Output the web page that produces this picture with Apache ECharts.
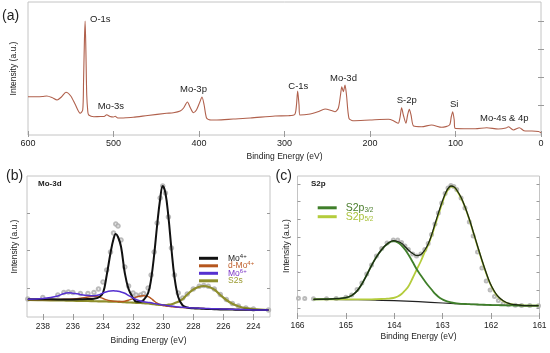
<!DOCTYPE html>
<html>
<head>
<meta charset="utf-8">
<script src="https://cdn.jsdelivr.net/npm/echarts@6.0.0/dist/echarts.min.js"></script>
<style>html,body{margin:0;padding:0;background:#fff}#c{width:550px;height:353px}</style>
</head>
<body>
<div id="c"></div>
<script>
// ---- Panel (a): survey spectrum ----
const surveyBE = [600,590,583,578,572,566,561,555.6,550,545,539,536,535,534,533.2,532.3,531.3,530,529,523,515,511,508,504,500,498,495,485,477,460,438,430,422,418,413.6,410,406.6,403,399,396.5,394,391,386,379,360,340,311,295.5,288,286,284.6,283,282,272,261,252.6,245,241,237,234.5,233,231.2,229.2,227.5,224.6,220,200,178.5,172.6,167,165,163,161,158,156,154,152,149,139.6,128,116,107,105,103.3,101.5,100.6,90,77,63.5,50,41,38,35,32.3,25.3,20,15,10.6,3,0];
const surveyIntensity = [37.3,37.3,37.5,38,36.5,34,37,41.7,38,30,20.7,24,54,94,113,84,39,22,19,17.3,17.5,17.5,19.3,17.5,17,17.7,16,16.3,16.7,18.5,20.7,21.3,23,26,32,26,21.3,24,32,37,29,15.7,14,14,15,16,18,18.3,19.5,29,43,29,19,19.7,22.3,25,23.5,22.3,26,39,47.3,42.3,49,39,15.7,13.3,14,14.7,13.3,10.7,16,26.3,19,10.7,19,24.7,19,8,7.3,9,6.7,9,17,22.3,14,5.7,5.3,5.3,6.3,5,6,7.3,5.5,4,6.3,3.3,3,3,2.5,1.3];
const surveyTicksX = 100;
const surveyTicksY = [29,57,85,113];

// ---- Panel (b): Mo-3d ----
const moBE = [239,238,237,236.6,236.3,236,235.5,235,234.6,234.3,234,233.75,233.5,233.3,233.15,233,232.8,232.55,232.3,232,231.8,231.5,231.3,231,230.8,230.6,230.4,230.2,230.03,229.85,229.65,229.45,229.25,229,228.7,228.4,228,227.6,227.3,227,226.6,226.2,225.8,225.4,225,224.5,224,223];
const mo4 = [17.7,17.7,17.6,17.6,17.6,17.6,17.7,17.9,18.3,19.5,24,42,64,78,83,80,70.3,44,28,19,15.5,15.3,17,24,38,62,92,118,131,124,100,68,40,20,11.5,9.5,8.7,8.4,8.2,8,7.8,7.6,7.5,7.4,7.3,7.2,7.1,7];
const dmo4 = [17.5,17.5,17.6,17.7,17.8,18,18.8,20,20.6,20,18.5,17.2,16.3,15.8,15.6,15.5,15.5,15.8,16.8,18.5,19.8,21,21.3,20.3,18.5,16,13.8,12.3,11.5,11,10.6,10.3,10,9.7,9.4,9.2,8.9,8.7,8.5,8.3,8.2,8,7.8,7.6,7.5,7.3,7.1,7];
const mo6 = [17.7,18.5,21,23.5,24.3,23.8,22.5,21.5,21.2,22,24,25.3,26,26.2,26,25.7,25,23.7,21.5,19,17.5,16,15.3,14.6,14.2,13.6,13,12.5,12.1,11.7,11.3,10.9,10.5,10,9.7,9.4,9,8.8,8.6,8.4,8.3,8.1,7.9,7.7,7.5,7.3,7.1,7];
const s2s = [17,16.8,16.6,16.5,16.4,16.3,16.1,16,15.8,15.7,15.6,15.5,15.4,15.3,15.3,15.2,15,14.8,14.6,14.4,14.2,14,13.8,13.5,13.2,12.8,12.4,12.1,12,12,12.3,12.8,13.8,15.3,18,22.5,27.5,30.3,31,30.3,27.5,22,17,13.2,10.8,8.8,7.8,7];
const moExp = [18,19.5,22,24.5,25,24.5,23.5,23.5,24.5,28,35,47,65,84,93,91,77,50,31,24,22,22,23.5,29,42,65,94,119,131,124,100,69,42,24,19,23,28,30.7,31.5,30.7,28,22.5,17.5,13.5,11,9,8,7];
const moTicksX = [224,226,228,230,232,234,236,238];
const moTicksY = [28.7,66.5,104];

// ---- Panel (c): S2p ----
const s2pBE = [165.98,165.85,165.67,165.4,165.2,165,164.88,164.77,164.67,164.57,164.47,164.37,164.26,164.15,164.02,163.93,163.85,163.78,163.71,163.62,163.54,163.45,163.37,163.3,163.23,163.16,163.09,163.02,162.95,162.89,162.83,162.77,162.71,162.62,162.54,162.45,162.37,162.28,162.19,162.1,162.02,161.93,161.85,161.75,161.64,161.5,161.37,161.2,161.02];
const s2pExp = [17.7,17.6,17.3,17.2,17.5,18.8,21,26.5,33,42,51,60,67.5,73,76,76,73.5,70,66.5,62,60,62,66.5,72.5,81.5,92,103,113,122.5,128,130.5,129.5,126.5,118,108,94,80,64,48,35,26,19.5,15.5,12.5,11.2,10.8,10.5,10.4,10.3];
const s2pFit = [null,null,16.7,16.9,17.3,18.3,20.5,25,32,41,50.5,59,66.5,72,75.3,74.5,72.7,69.5,66,62.5,60.3,61.5,66,72,81,92,102.7,113,122,127.5,130,129.3,126,118.5,109.3,97,84.3,70,56,43,32.7,24.5,19.3,15.3,12.7,11.3,10.7,10.4,10.3];
const s2p32 = [null,null,16.7,16.9,17.3,18.3,20.5,25,32,41,50.5,59,66.3,71.7,74.8,73.5,70.5,66.5,61.5,54,47,40.5,35,30.5,26.5,22.3,19.3,17,15.3,14.3,13.6,13,12.6,12.2,12,11.8,11.6,11.5,11.3,11.2,11,10.9,10.8,10.7,10.6,10.5,10.4,10.4,10.3];
const s2p52 = [null,null,16.7,16.7,16.7,16.7,16.7,16.7,16.7,16.7,16.7,16.8,17,17.3,18,19.5,22,25.5,29.5,38,46,55,64,71,80,90.5,101,111.5,121,126.5,129.5,129,125.5,118,109,96.5,84,69.5,55.5,42.5,32.3,24,18.8,15,12.5,11.2,10.6,10.4,10.3];
const bgBE = [165.67,165,164.5,164,163.5,163,162.5,162,161.5,161.02];
const bgVal = [16.7,16.4,16,15.3,14.3,13,11.8,11,10.5,10.3];
const s2pTicksY = [7.6,25.3,43.3,61,78.7,96.7,114.3,132];

const pairs = (xs, ys) => xs.map((x, i) => [x, ys[i]]);

const FN = '"Liberation Sans",Arial,sans-serif';
const FRAME = '#c4c4c4';
const TICK = '#9a9a9a';
const TXT = '#222';

function xAx(grid, opt, top) {
  const o = Object.assign({
    type: 'value', gridIndex: grid, inverse: true,
    axisLine: {show: false}, splitLine: {show: false},
    axisTick: {show: true, inside: true, length: 3, lineStyle: {color: TICK}},
    axisLabel: {color: TXT, fontFamily: FN, fontSize: 9, margin: 4},
    nameTextStyle: {color: TXT, fontFamily: FN, fontSize: 8.5}
  }, JSON.parse(JSON.stringify(opt)));
  o.position = top ? 'top' : 'bottom';
  if (top) { o.name = ''; o.axisLabel.show = false; }
  return o;
}
function yAx(grid, min, max, ticks, right, nameGap) {
  return {
    type: 'value', gridIndex: grid, min: min, max: max, position: right ? 'right' : 'left',
    axisLine: {show: false}, splitLine: {show: false},
    axisTick: {show: true, inside: true, length: 3, customValues: ticks, lineStyle: {color: TICK}},
    axisLabel: {show: false},
    name: right ? '' : 'Intensity (a.u.)', nameLocation: 'middle', nameGap: nameGap || 8,
    nameTextStyle: {color: TXT, fontFamily: FN, fontSize: 8.5}
  };
}

const aXopt = {min: 0, max: 600, interval: surveyTicksX,
  axisLabel: {color: TXT, fontFamily: FN, fontSize: 9, margin: 4},
  name: 'Binding Energy (eV)', nameLocation: 'middle', nameGap: 17};
const bXopt = {min: 222.9, max: 239.05,
  axisTick: {show: true, inside: true, length: 3, customValues: moTicksX, lineStyle: {color: TICK}},
  axisLabel: {color: TXT, fontFamily: FN, fontSize: 8.5, margin: 5, customValues: moTicksX},
  name: 'Binding Energy (eV)', nameLocation: 'middle', nameGap: 19.5};
const cXopt = {min: 161, max: 166, interval: 1,
  axisLabel: {color: TXT, fontFamily: FN, fontSize: 8.5, margin: 5.5},
  name: 'Binding Energy (eV)', nameLocation: 'middle', nameGap: 16.5};

const legB = {'Mo4+': ['k0', 'Mo', '4+'], 'd-Mo4+': ['k1', 'd-Mo', '4+'], 'Mo6+': ['k2', 'Mo', '6+'], 'S2s': ['k3', 'S2s', '']};
const legBCol = {k0: '#222222', k1: '#c0602c', k2: '#7b35c6', k3: '#9a9a30'};
const richB = {};
Object.keys(legBCol).forEach(k => {
  richB[k] = {color: legBCol[k], fontFamily: FN, fontSize: 8.5, lineHeight: 10};
  richB[k + 's'] = {color: legBCol[k], fontFamily: FN, fontSize: 6, lineHeight: 3, verticalAlign: 'top'};
});
const legC = {'S2p3/2': ['m0', 'S2p', '3/2'], 'S2p5/2': ['m1', 'S2p', '5/2']};
const legCCol = {m0: '#4a7d2c', m1: '#a9c23a'};
const richC = {};
Object.keys(legCCol).forEach(k => {
  richC[k] = {color: legCCol[k], fontFamily: FN, fontSize: 10.5, lineHeight: 12};
  richC[k + 's'] = {color: legCCol[k], fontFamily: FN, fontSize: 6.5, lineHeight: 3, verticalAlign: 'bottom'};
});

const option = {
  animation: false,
  backgroundColor: '#fff',
  grid: [
    {left: 28, top: 2, width: 513, height: 133, show: true, borderColor: FRAME, borderWidth: 1},
    {left: 27, top: 176, width: 243, height: 141, show: true, borderColor: FRAME, borderWidth: 1},
    {left: 297.5, top: 176, width: 242, height: 140, show: true, borderColor: FRAME, borderWidth: 1}
  ],
  xAxis: [
    xAx(0, aXopt), xAx(0, aXopt, true),
    xAx(1, bXopt), xAx(1, bXopt, true),
    xAx(2, cXopt), xAx(2, cXopt, true)
  ],
  yAxis: [
    yAx(0, -1, 132, surveyTicksY, false, 9.5),
    yAx(0, -1, 132, surveyTicksY, true),
    yAx(1, 0, 141, moTicksY, false, 8),
    yAx(1, 0, 141, moTicksY, true),
    yAx(2, 0, 140, s2pTicksY, false, 6),
    yAx(2, 0, 140, s2pTicksY, true)
  ],
  legend: [
    {data: ['Mo4+', 'd-Mo4+', 'Mo6+', 'S2s'], orient: 'vertical', left: 199, top: 253.3,
     itemWidth: 19, itemHeight: 3, itemGap: -2, icon: 'rect', selectedMode: false, padding: 0,
     textStyle: {padding: [0, 0, 0, 5], rich: richB},
     formatter: n => `{${legB[n][0]}|${legB[n][1]}}{${legB[n][0]}s|${legB[n][2]}}`},
    {data: ['S2p3/2', 'S2p5/2'], orient: 'vertical', left: 317.7, top: 202.3,
     itemWidth: 19, itemHeight: 3, itemGap: -2.6, icon: 'rect', selectedMode: false, padding: 0,
     textStyle: {padding: [0, 0, 0, 4], rich: richC},
     formatter: n => `{${legC[n][0]}|${legC[n][1]}}{${legC[n][0]}s|${legC[n][2]}}`}
  ],
  series: [
    {type: 'line', name: 'survey', xAxisIndex: 0, yAxisIndex: 0, data: pairs(surveyBE, surveyIntensity),
     symbol: 'none', smooth: 0.25, color: '#b0604c', lineStyle: {width: 1.1, color: '#b0604c'}},

    {type: 'scatter', name: 'moExp', xAxisIndex: 2, yAxisIndex: 2, data: pairs(moBE, moExp),
     symbol: 'emptyCircle', symbolSize: 3.5, color: '#aaaaaa', itemStyle: {color: '#aaaaaa', borderWidth: 0.9}},
    {type: 'line', name: 'S2s', xAxisIndex: 2, yAxisIndex: 2, data: pairs(moBE, s2s),
     symbol: 'none', smooth: 0.4, color: '#8e8e2c', lineStyle: {width: 2.2, color: '#8e8e2c'}},
    {type: 'line', name: 'd-Mo4+', xAxisIndex: 2, yAxisIndex: 2, data: pairs(moBE, dmo4),
     symbol: 'none', smooth: 0.4, color: '#b5561e', lineStyle: {width: 1.4, color: '#b5561e'}},
    {type: 'line', name: 'Mo4+', xAxisIndex: 2, yAxisIndex: 2, data: pairs(moBE, mo4),
     symbol: 'none', smooth: 0.4, color: '#111111', lineStyle: {width: 2, color: '#111111'}},
    {type: 'line', name: 'Mo6+', xAxisIndex: 2, yAxisIndex: 2, data: pairs(moBE, mo6),
     symbol: 'none', smooth: 0.4, color: '#5530d0', lineStyle: {width: 1.5, color: '#5530d0'}},

    {type: 'scatter', name: 's2pExp', xAxisIndex: 4, yAxisIndex: 4, data: pairs(s2pBE, s2pExp),
     symbol: 'emptyCircle', symbolSize: 3, color: '#aaaaaa', itemStyle: {color: '#aaaaaa', borderWidth: 0.8}},
    {type: 'line', name: 'bg', xAxisIndex: 4, yAxisIndex: 4, data: pairs(bgBE, bgVal),
     symbol: 'none', smooth: 0.3, color: '#222', lineStyle: {width: 1.2, color: '#222'}},
    {type: 'line', name: 'S2p5/2', xAxisIndex: 4, yAxisIndex: 4, data: pairs(s2pBE, s2p52),
     symbol: 'none', smooth: 0.4, color: '#b4cc3c', lineStyle: {width: 1.8, color: '#b4cc3c'}},
    {type: 'line', name: 'S2p3/2', xAxisIndex: 4, yAxisIndex: 4, data: pairs(s2pBE, s2p32),
     symbol: 'none', smooth: 0.4, color: '#3f7f2a', lineStyle: {width: 1.8, color: '#3f7f2a'}},
    {type: 'line', name: 'fit', xAxisIndex: 4, yAxisIndex: 4, data: pairs(s2pBE, s2pFit),
     symbol: 'none', smooth: 0.4, color: '#1c2814', lineStyle: {width: 1.3, color: '#1c2814'}}
  ],
  graphic: [
    {type: 'text', x: 2, y: 16, style: {text: '(a)', fontFamily: FN, fontSize: 14, fill: TXT, verticalAlign: 'middle'}},
    {type: 'text', x: 6, y: 176, style: {text: '(b)', fontFamily: FN, fontSize: 14, fill: TXT, verticalAlign: 'middle'}},
    {type: 'text', x: 275.5, y: 176, style: {text: '(c)', fontFamily: FN, fontSize: 14, fill: TXT, verticalAlign: 'middle'}},
    {type: 'text', x: 38, y: 184, style: {text: 'Mo-3d', fontFamily: FN, fontSize: 8, fontWeight: 'bold', fill: TXT, verticalAlign: 'middle'}},
    {type: 'text', x: 311, y: 184, style: {text: 'S2p', fontFamily: FN, fontSize: 8, fontWeight: 'bold', fill: TXT, verticalAlign: 'middle'}},
    {type: 'text', x: 90, y: 19, style: {text: 'O-1s', fontFamily: FN, fontSize: 9.5, fill: TXT, verticalAlign: 'middle'}},
    {type: 'text', x: 97.7, y: 106, style: {text: 'Mo-3s', fontFamily: FN, fontSize: 9.5, fill: TXT, verticalAlign: 'middle'}},
    {type: 'text', x: 180, y: 89.3, style: {text: 'Mo-3p', fontFamily: FN, fontSize: 9.5, fill: TXT, verticalAlign: 'middle'}},
    {type: 'text', x: 288.3, y: 86, style: {text: 'C-1s', fontFamily: FN, fontSize: 9.5, fill: TXT, verticalAlign: 'middle'}},
    {type: 'text', x: 330, y: 78.7, style: {text: 'Mo-3d', fontFamily: FN, fontSize: 9.5, fill: TXT, verticalAlign: 'middle'}},
    {type: 'text', x: 396.7, y: 100, style: {text: 'S-2p', fontFamily: FN, fontSize: 9.5, fill: TXT, verticalAlign: 'middle'}},
    {type: 'text', x: 450, y: 104, style: {text: 'Si', fontFamily: FN, fontSize: 9.5, fill: TXT, verticalAlign: 'middle'}},
    {type: 'text', x: 480, y: 118.3, style: {text: 'Mo-4s & 4p', fontFamily: FN, fontSize: 9.5, fill: TXT, verticalAlign: 'middle'}}
  ]
};

const chart = echarts.init(document.getElementById('c'), null, {renderer: 'canvas'});
chart.setOption(option);
</script>
</body>
</html>
